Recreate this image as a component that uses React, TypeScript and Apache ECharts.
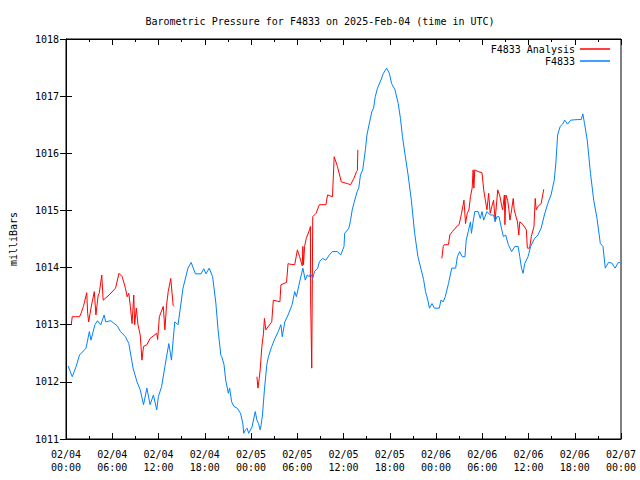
import React, { useEffect, useRef } from "react";
import * as echarts from "echarts";

// Hours since 2025-02-04 00:00 UTC, pressure in milliBars
const analysisSeg1: [number, number][] = [
  [0.68, 1013.0], [0.81, 1013.14], [1.24, 1013.14], [1.75, 1013.14], [1.96, 1013.2], [2.26, 1013.32],
  [2.69, 1013.56], [2.81, 1013.2], [2.94, 1013.05], [3.24, 1013.29], [3.67, 1013.58], [3.88, 1013.17],
  [4.18, 1013.52], [4.31, 1013.55], [4.64, 1013.87], [4.82, 1013.43], [5.59, 1013.52], [6.43, 1013.64],
  [6.87, 1013.9], [7.29, 1013.84], [7.71, 1013.64], [7.93, 1013.49], [8.15, 1013.55], [8.35, 1013.32],
  [8.57, 1013.02], [8.79, 1013.52], [8.91, 1013.0], [9.12, 1013.29], [9.34, 1013.0], [9.63, 1012.82],
  [9.85, 1012.38], [10.06, 1012.62], [10.49, 1012.65], [10.91, 1012.76], [11.77, 1012.85], [11.89, 1012.74],
  [12.11, 1013.14], [12.62, 1013.32], [12.83, 1012.91], [13.04, 1013.34], [13.26, 1013.58], [13.59, 1013.81],
  [13.9, 1013.34], [14.03, 1013.32],
];

const analysisSeg2: [number, number][] = [
  [24.77, 1012.09], [24.9, 1011.89], [25.07, 1012.06], [25.19, 1012.21], [25.41, 1012.62], [25.62, 1012.85],
  [25.74, 1013.11], [25.92, 1012.91], [26.69, 1013.05], [26.9, 1013.43], [27.75, 1013.4], [27.88, 1013.7],
  [28.61, 1013.74], [28.81, 1014.07], [29.03, 1014.06], [29.67, 1014.05], [30.02, 1014.31], [30.31, 1014.19],
  [30.65, 1014.03], [30.73, 1014.37], [30.82, 1014.05], [30.95, 1014.37], [31.17, 1014.51], [31.59, 1014.66],
  [31.71, 1014.72], [31.74, 1013.38], [31.88, 1012.24], [32.01, 1014.89], [32.44, 1014.95], [32.87, 1015.1],
  [33.72, 1015.1], [33.93, 1015.27], [34.57, 1015.24], [34.79, 1015.94], [35.21, 1015.77], [35.72, 1015.5],
  [36.49, 1015.47], [36.92, 1015.45], [37.34, 1015.56], [37.69, 1015.68], [37.8, 1015.7], [37.86, 1016.06],
];

const analysisSeg3: [number, number][] = [
  [48.76, 1014.16], [48.94, 1014.37], [49.07, 1014.4], [49.62, 1014.4], [49.79, 1014.57], [50.13, 1014.63],
  [50.77, 1014.73], [50.99, 1014.75], [51.32, 1014.95], [51.63, 1015.18], [51.83, 1014.77], [52.05, 1014.95],
  [52.27, 1015.01], [52.47, 1015.24], [52.69, 1015.39], [52.82, 1015.71], [52.91, 1015.39], [53.03, 1015.71],
  [53.46, 1015.68], [53.97, 1015.66], [54.19, 1015.36], [54.4, 1015.18], [54.61, 1015.01], [54.83, 1015.3],
  [55.03, 1014.95], [55.25, 1015.07], [55.47, 1015.18], [55.67, 1014.83], [56.01, 1015.36], [56.31, 1015.24],
  [56.53, 1015.07], [56.65, 1015.01], [56.87, 1015.27], [56.94, 1014.75], [57.07, 1015.27], [57.29, 1015.18],
  [57.46, 1015.01], [57.59, 1014.83], [57.81, 1015.01], [58.02, 1015.21], [58.15, 1015.01], [58.32, 1014.92],
  [58.57, 1014.8], [58.74, 1014.57], [58.87, 1014.8], [59.3, 1014.75], [59.72, 1014.66], [59.85, 1014.34],
  [60.15, 1014.34], [60.36, 1014.54], [60.71, 1014.72], [60.87, 1015.21], [61.0, 1015.01], [61.22, 1015.07],
  [61.64, 1015.12], [61.98, 1015.37],
];

const stationValues: [number, number][] = [
  [0.26, 1012.28], [0.81, 1012.09], [1.32, 1012.27], [1.75, 1012.47], [2.39, 1012.56], [2.6, 1012.59],
  [3.03, 1012.88], [3.24, 1012.73], [3.75, 1013.0], [4.09, 1013.07], [4.51, 1013.0], [4.95, 1013.17],
  [5.15, 1013.05], [5.79, 1013.07], [6.65, 1012.98], [7.07, 1012.88], [7.71, 1012.79], [8.15, 1012.67],
  [8.7, 1012.24], [9.21, 1012.0], [9.63, 1011.86], [10.06, 1011.6], [10.49, 1011.89], [10.91, 1011.6],
  [11.34, 1011.77], [11.77, 1011.51], [11.98, 1011.74], [12.41, 1011.92], [12.83, 1012.27], [13.34, 1012.67],
  [13.68, 1012.38], [14.11, 1013.05], [14.54, 1013.0], [15.18, 1013.64], [15.82, 1013.99], [16.24, 1014.09],
  [16.79, 1013.89], [17.52, 1013.89], [17.87, 1013.98], [18.16, 1013.89], [18.58, 1013.99], [19.02, 1013.84],
  [19.44, 1013.38], [19.73, 1012.91], [20.08, 1012.47], [20.21, 1012.44], [20.5, 1012.3], [20.72, 1012.03],
  [21.06, 1011.8], [21.23, 1011.89], [21.49, 1011.65], [21.78, 1011.57], [22.21, 1011.54], [22.64, 1011.45],
  [22.93, 1011.28], [23.06, 1011.1], [23.28, 1011.16], [23.49, 1011.19], [23.7, 1011.1], [24.13, 1011.21],
  [24.55, 1011.48], [24.77, 1011.33], [24.98, 1011.27], [25.19, 1011.16], [25.32, 1011.25], [25.49, 1011.42],
  [25.74, 1011.86], [26.05, 1012.3], [26.26, 1012.44], [26.69, 1012.62], [27.11, 1012.76], [27.53, 1012.88],
  [27.88, 1013.0], [28.05, 1012.79], [28.39, 1013.05], [28.81, 1013.17], [29.33, 1013.35], [29.67, 1013.58],
  [29.89, 1013.49], [30.31, 1013.75], [30.73, 1013.99], [31.04, 1013.78], [31.29, 1013.87], [31.59, 1013.84],
  [31.72, 1013.9], [32.01, 1013.81], [32.23, 1013.93], [32.65, 1013.99], [32.87, 1014.1], [33.29, 1014.16],
  [33.72, 1014.13], [34.15, 1014.22], [34.57, 1014.28], [35.21, 1014.28], [35.64, 1014.22], [36.07, 1014.37],
  [36.15, 1014.6], [36.7, 1014.69], [36.92, 1014.83], [37.13, 1015.01], [37.34, 1015.12], [37.77, 1015.33],
  [37.98, 1015.39], [38.2, 1015.62], [38.49, 1015.71], [38.84, 1016.06], [39.04, 1016.32], [39.39, 1016.55],
  [39.68, 1016.73], [39.9, 1016.79], [40.12, 1016.99], [40.41, 1017.14], [40.76, 1017.25], [41.18, 1017.4],
  [41.6, 1017.49], [41.95, 1017.4], [42.24, 1017.22], [42.68, 1017.11], [43.1, 1016.87], [43.39, 1016.61],
  [43.65, 1016.29], [43.96, 1016.0], [44.38, 1015.62], [44.8, 1015.18], [45.23, 1014.6], [45.66, 1014.19],
  [46.08, 1013.96], [46.39, 1013.79], [46.64, 1013.58], [46.94, 1013.43], [47.15, 1013.29], [47.48, 1013.37],
  [47.79, 1013.29], [48.43, 1013.29], [48.64, 1013.43], [48.94, 1013.4], [49.2, 1013.49], [49.62, 1013.72],
  [50.04, 1013.99], [50.55, 1013.99], [50.77, 1014.19], [51.07, 1014.28], [51.41, 1014.19], [51.76, 1014.19],
  [51.92, 1014.48], [52.18, 1014.63], [52.47, 1014.8], [52.6, 1014.6], [52.78, 1014.77], [53.03, 1014.98],
  [53.46, 1014.98], [53.75, 1014.86], [53.97, 1014.98], [54.19, 1014.83], [54.61, 1014.98], [55.03, 1014.92],
  [55.47, 1014.92], [55.67, 1014.8], [55.89, 1014.89], [56.18, 1014.89], [56.53, 1014.66], [56.75, 1014.54],
  [57.04, 1014.57], [57.39, 1014.4], [57.81, 1014.28], [58.23, 1014.37], [58.66, 1014.37], [58.87, 1014.19],
  [59.09, 1013.99], [59.3, 1013.9], [59.51, 1014.07], [59.94, 1014.19], [60.28, 1014.37], [60.79, 1014.51],
  [61.22, 1014.57], [61.64, 1014.69], [62.06, 1014.92], [62.5, 1015.12], [62.92, 1015.27], [63.34, 1015.53],
  [63.56, 1015.85], [63.78, 1016.32], [64.11, 1016.47], [64.42, 1016.51], [64.71, 1016.58], [65.06, 1016.51],
  [65.48, 1016.58], [66.34, 1016.59], [66.85, 1016.59], [67.05, 1016.69], [67.27, 1016.52], [67.62, 1016.23],
  [68.04, 1015.65], [68.46, 1015.18], [68.89, 1014.86], [69.32, 1014.42], [69.66, 1014.37], [69.96, 1013.99],
  [70.38, 1014.09], [70.81, 1014.08], [71.23, 1013.99], [71.66, 1014.09], [71.87, 1014.09],
];

const seriesNames = ["F4833 Analysis", "F4833"];
const titleText = "Barometric Pressure for F4833 on 2025-Feb-04 (time in UTC)";
const yTicks = { min: 1011, max: 1018, interval: 1 };
const xTicks = { min: 0, max: 72, interval: 6 };
const startDay = 4;

const FONT = "DejaVu Sans Mono";
const pad = (n: number) => (n < 10 ? "0" + n : "" + n);

function xLabel(h: number): string {
  const day = startDay + Math.floor(h / 24);
  const hh = Math.round(h % 24);
  return "02/" + pad(day) + "\n" + pad(hh) + ":00";
}

export default function App() {
  const ref = useRef<HTMLDivElement>(null);
  useEffect(() => {
    if (!ref.current) return;
    const chart = echarts.init(ref.current, undefined, { renderer: "svg" });
    const analysisData: any[] = [
      ...analysisSeg1,
      [20, null],
      ...analysisSeg2,
      [44, null],
      ...analysisSeg3,
    ];
    const axisCommon = {
      type: "value" as const,
      axisLine: { show: true, lineStyle: { color: "#000", width: 1 } },
      axisTick: { show: true, inside: true, length: 6, lineStyle: { color: "#000" } },
      splitLine: { show: false },
    };
    const legendCommon = {
      right: 30,
      padding: 0,
      align: "right" as const,
      icon: "rect",
      itemWidth: 30,
      itemHeight: 1.5,
      textStyle: { fontFamily: FONT, fontSize: 10, color: "#000" },
      selectedMode: false,
    };
    chart.setOption({
      animation: false,
      backgroundColor: "#fff",
      title: {
        text: titleText,
        left: "center",
        top: 11,
        textStyle: { fontFamily: FONT, fontSize: 10, fontWeight: "normal", color: "#000" },
      },
      legend: [
        { ...legendCommon, data: [seriesNames[0]], top: 44 },
        { ...legendCommon, data: [seriesNames[1]], top: 56 },
      ],
      grid: { left: 58, right: 19, top: 39, bottom: 41, show: true, borderColor: "#000", borderWidth: 1 },
      xAxis: [
        {
          ...axisCommon,
          position: "bottom",
          min: xTicks.min,
          max: xTicks.max,
          interval: xTicks.interval,
          minorTick: { show: true, splitNumber: 2, length: 3, lineStyle: { color: "#000" } },
          axisLabel: {
            formatter: (v: number) => xLabel(v),
            fontFamily: FONT,
            fontSize: 10,
            color: "#000",
            lineHeight: 13,
            margin: 9,
          },
        },
        {
          ...axisCommon,
          position: "top",
          min: xTicks.min,
          max: xTicks.max,
          interval: xTicks.interval,
          minorTick: { show: true, splitNumber: 2, length: 3, lineStyle: { color: "#000" } },
          axisLabel: { show: false },
        },
      ],
      yAxis: [
        {
          ...axisCommon,
          position: "left",
          min: yTicks.min,
          max: yTicks.max,
          interval: yTicks.interval,
          name: "milliBars",
          nameLocation: "middle",
          nameGap: 48,
          nameRotate: 90,
          nameTextStyle: { fontFamily: FONT, fontSize: 10, color: "#000" },
          axisLabel: {
            fontFamily: FONT,
            fontSize: 10,
            color: "#000",
            margin: 7,
            formatter: (v: number) => String(v),
          },
        },
        {
          ...axisCommon,
          position: "right",
          min: yTicks.min,
          max: yTicks.max,
          interval: yTicks.interval,
          axisLabel: { show: false },
        },
      ],
      series: [
        {
          name: seriesNames[0],
          type: "line",
          data: analysisData,
          showSymbol: false,
          connectNulls: false,
          silent: true,
          color: "#ff0000",
          lineStyle: { color: "#ff0000", width: 1 },
          xAxisIndex: 0,
          yAxisIndex: 0,
        },
        {
          name: seriesNames[1],
          type: "line",
          data: stationValues,
          showSymbol: false,
          silent: true,
          color: "#0080ff",
          lineStyle: { color: "#0080ff", width: 1 },
          xAxisIndex: 0,
          yAxisIndex: 0,
        },
      ],
    });
    return () => chart.dispose();
  }, []);
  return (
    <div
      ref={ref}
      style={{ position: "fixed", left: 0, top: 0, width: 640, height: 480, background: "#fff" }}
    />
  );
}
